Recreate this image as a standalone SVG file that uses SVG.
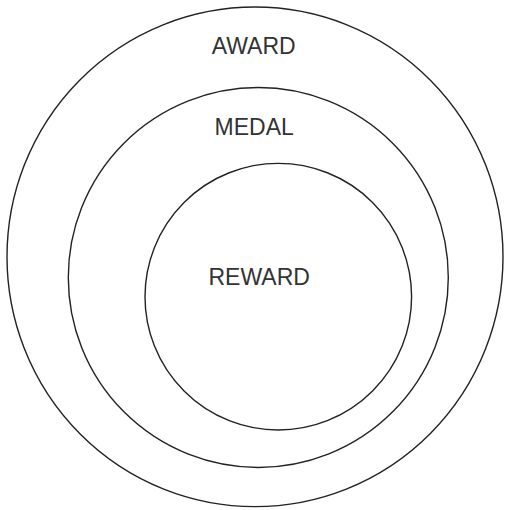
<svg xmlns="http://www.w3.org/2000/svg" width="507" height="510" viewBox="0 0 507 510">
<style>
.c{fill:none;stroke:#222;stroke-width:1.4}
.t{font-family:"Liberation Sans",Arial,sans-serif;font-size:23px;fill:#333;text-anchor:middle}
</style>
<rect width="507" height="510" fill="#fff"/>
<g id="award">
<ellipse class="c" cx="255" cy="256.8" rx="248" ry="249.8"/>
<text class="t" x="253.7" y="54">AWARD</text>
</g>
<g id="medal">
<ellipse class="c" cx="258.3" cy="277.5" rx="190" ry="190"/>
<text class="t" x="254.2" y="135">MEDAL</text>
</g>
<g id="reward">
<ellipse class="c" cx="278.3" cy="296.7" rx="133.3" ry="133.3"/>
<text class="t" x="259.2" y="285">REWARD</text>
</g>
<g id="connectors"/>
</svg>
